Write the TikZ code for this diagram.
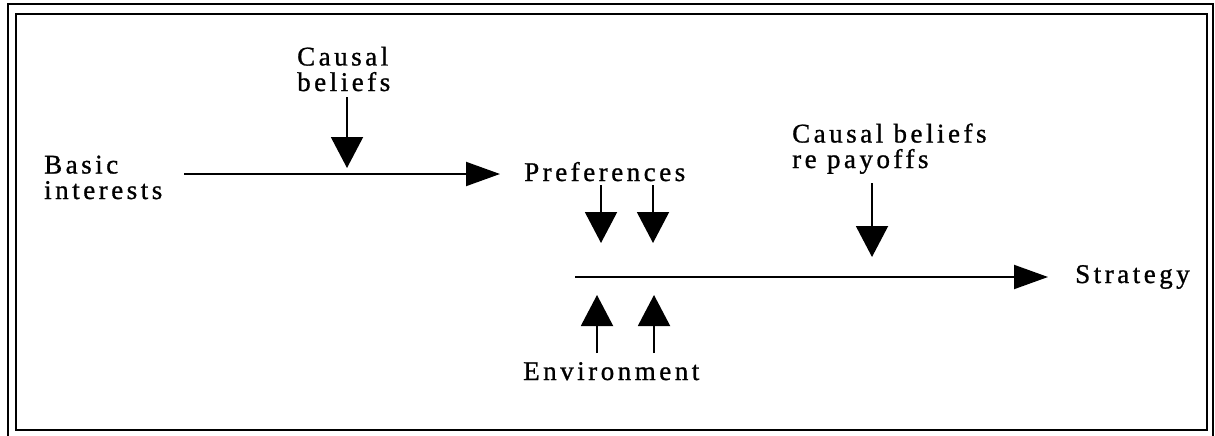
\documentclass[tikz,border=0pt]{standalone}
\usepackage{fontspec}
\setmainfont{Liberation Serif}[LetterSpace=13,FakeBold=1]
\usetikzlibrary{arrows.meta}
\begin{document}
\begin{tikzpicture}[x=1pt,y=-1pt,
  lbl/.style={inner sep=0pt, font=\fontsize{27}{25.5}\selectfont, align=left, anchor=base west},
  flow/.style={line width=2pt, -{Triangle[length=34pt,width=24pt]}},
  push/.style={line width=2pt, -{Triangle[length=31pt,width=32pt]}},
  frame/.style={line width=2pt}]
\useasboundingbox (0,0) rectangle (1215,436);
% double border
\draw[frame] (8,437) -- (8,4) -- (1213,4) -- (1213,437);
\draw[frame] (16,14) rectangle (1207,430);

% labels (base anchor sits on the last line)
\node[lbl] (basic)  at (44,199)  {Basic\\interests};
\node[lbl] (causal) at (297,91)  {Causal\\beliefs};
\node[lbl] (pref)   at (524,181) {Preferences};
\node[lbl] (payoff) at (792,168) {Causal beliefs\\re payoffs};
\node[lbl] (env)    at (523,380) {Environment};
\node[lbl] (strat)  at (1075,283) {Strategy};

% connector end points
\coordinate (l1s) at (184,174);  \coordinate (l1e) at (500,174);
\coordinate (l2s) at (575,277);  \coordinate (l2e) at (1048,277);
\coordinate (c1s) at (347,97);   \coordinate (c1e) at (347,168);
\coordinate (p1s) at (601,185);  \coordinate (p1e) at (601,243);
\coordinate (p2s) at (653,185);  \coordinate (p2e) at (653,243);
\coordinate (q1s) at (872,183);  \coordinate (q1e) at (872,257);
\coordinate (e1s) at (597,353);  \coordinate (e1e) at (597,295);
\coordinate (e2s) at (654,353);  \coordinate (e2e) at (654,295);

% horizontal flows
\draw[flow] (l1s) -- (l1e);
\draw[flow] (l2s) -- (l2e);
% influences
\draw[push] (c1s) -- (c1e);
\draw[push] (p1s) -- (p1e);
\draw[push] (p2s) -- (p2e);
\draw[push] (q1s) -- (q1e);
\draw[push] (e1s) -- (e1e);
\draw[push] (e2s) -- (e2e);
\end{tikzpicture}
\end{document}
